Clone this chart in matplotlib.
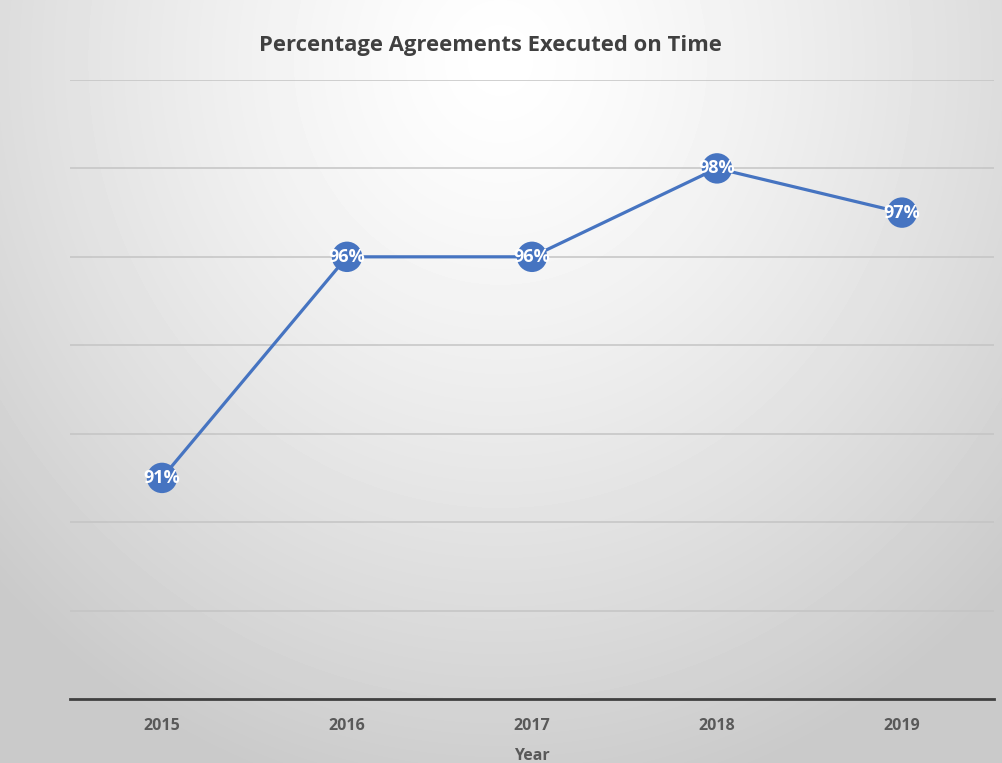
import numpy as np
import matplotlib.pyplot as plt

# data
years = ['2015', '2016', '2017', '2018', '2019']
pct_on_time = [91, 96, 96, 98, 97]

plt.rcParams['font.family'] = ['Open Sans', 'DejaVu Sans']

fig = plt.figure(figsize=(10.03, 7.63), dpi=100)

# soft radial gray background behind everything
bg = fig.add_axes([0, 0, 1, 1], zorder=0)
h, w = 763, 1003
yy, xx = np.mgrid[0:h, 0:w]
r = np.sqrt(((xx - 500) / 700.0) ** 2 + ((yy - 60) / 760.0) ** 2)
shade = 1.0 - 0.21 * np.clip(r, 0, 1) ** 1.3
bg.imshow(shade, cmap='gray', vmin=0, vmax=1, aspect='auto', interpolation='bilinear')
bg.axis('off')

ax = fig.add_axes([0.0693, 0.0839, 0.9222, 0.8113], zorder=1)
ax.patch.set_alpha(0)

x = np.arange(len(years))
color = '#4674c1'
ax.plot(x, pct_on_time, color=color, lw=2.3, zorder=3, solid_capstyle='round')
ax.scatter(x, pct_on_time, s=480, color=color, zorder=4, edgecolors='none')
for xi, v in zip(x, pct_on_time):
    ax.text(xi, v, f'{v}%', color='white', ha='center', va='center',
            fontsize=13, fontweight='bold', zorder=5)

ax.set_xlim(-0.5, len(years) - 0.5)
ax.set_ylim(86, 100)
ax.set_yticks(np.arange(86, 101, 2))
ax.yaxis.grid(True, color='#c4c4c4', lw=1.1)
ax.set_axisbelow(True)
ax.tick_params(axis='y', left=False, labelleft=False)
ax.set_xticks(x)
ax.set_xticklabels(years, fontsize=11.5, fontweight='bold', color='#595959')
ax.tick_params(axis='x', length=0, pad=14)

for s in ['top', 'left', 'right']:
    ax.spines[s].set_visible(False)
ax.spines['bottom'].set_color('#404040')
ax.spines['bottom'].set_linewidth(2)

ax.set_xlabel('Year', fontsize=11.5, fontweight='bold', color='#595959', labelpad=10)

fig.text(0.489, 0.94, 'Percentage Agreements Executed on Time', ha='center', va='center',
         fontsize=15.8, fontweight='bold', color='#404040')

plt.savefig('out.png', dpi=100)
